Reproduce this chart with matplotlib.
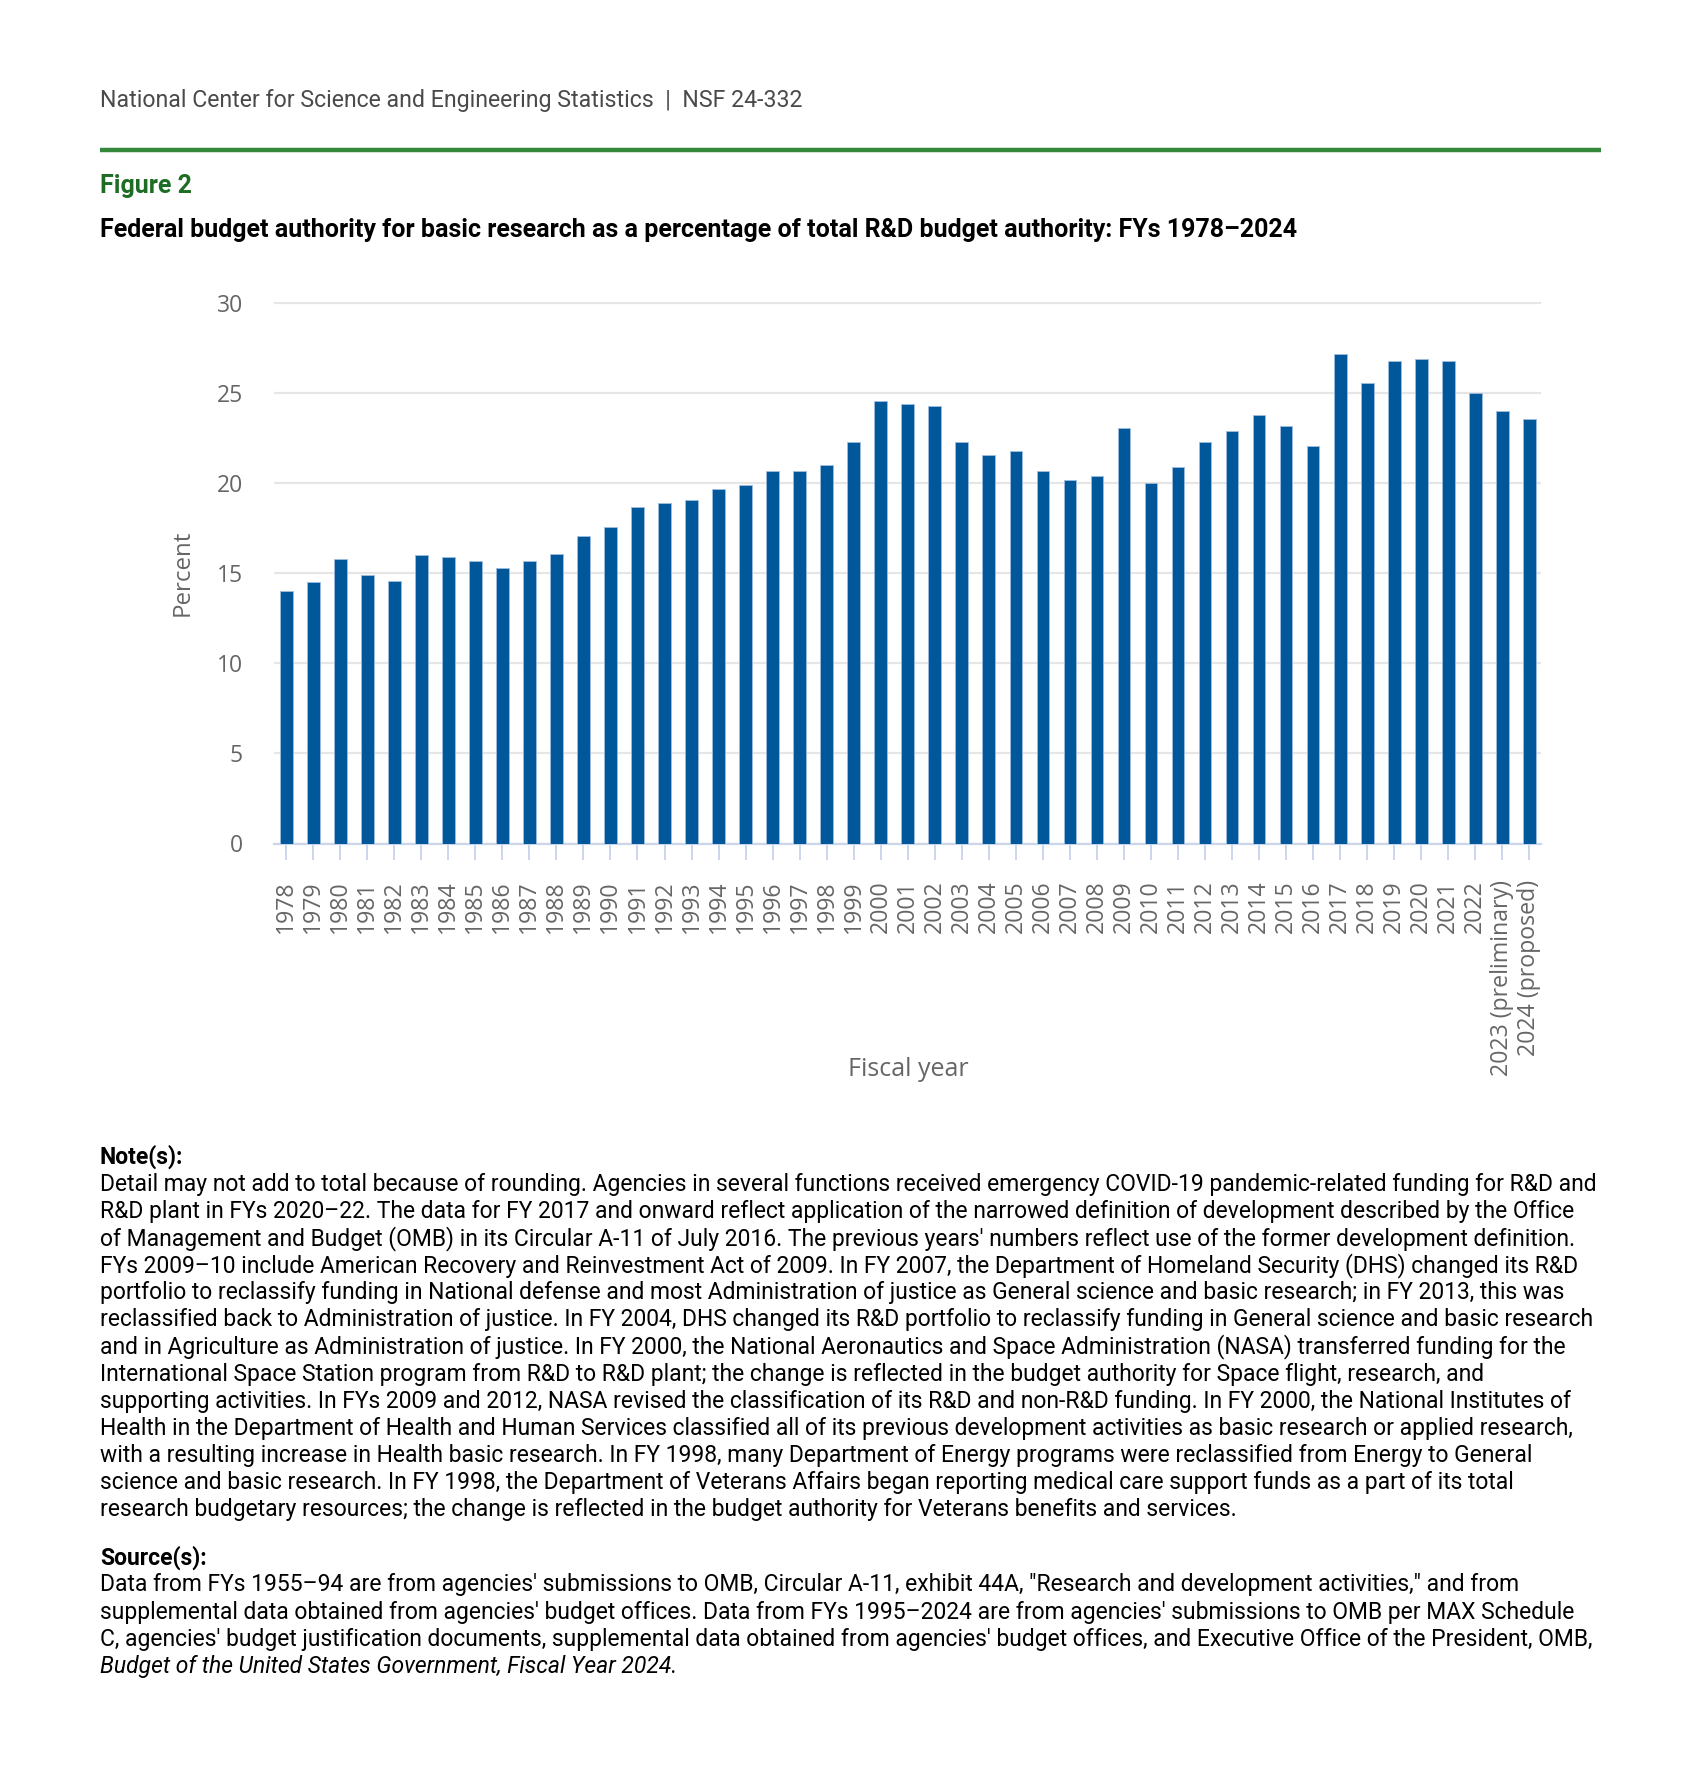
#!/usr/bin/env python

import matplotlib
matplotlib.use('Agg')
import matplotlib.pyplot as plt

years = ['1978', '1979', '1980', '1981', '1982', '1983', '1984', '1985', '1986', '1987',
         '1988', '1989', '1990', '1991', '1992', '1993', '1994', '1995', '1996', '1997',
         '1998', '1999', '2000', '2001', '2002', '2003', '2004', '2005', '2006', '2007',
         '2008', '2009', '2010', '2011', '2012', '2013', '2014', '2015', '2016', '2017',
         '2018', '2019', '2020', '2021', '2022', '2023 (preliminary)', '2024 (proposed)']

percent = [14.0, 14.5, 15.8, 14.9, 14.6, 16.0, 15.9, 15.7, 15.3, 15.7,
           16.1, 17.1, 17.6, 18.7, 18.9, 19.1, 19.7, 19.9, 20.7, 20.7,
           21.0, 22.3, 24.6, 24.4, 24.3, 22.3, 21.6, 21.8, 20.7, 20.2,
           20.4, 23.1, 20.0, 20.9, 22.3, 22.9, 23.8, 23.2, 22.1, 27.2,
           25.6, 26.8, 26.9, 26.8, 25.0, 24.0, 23.6]

y_ticks = [0, 5, 10, 15, 20, 25, 30]

note_lines = [
    "Detail may not add to total because of rounding. Agencies in several functions received emergency COVID-19 pandemic-related funding for R&D and",
    "R&D plant in FYs 2020\u201322. The data for FY 2017 and onward reflect application of the narrowed definition of development described by the Office",
    "of Management and Budget (OMB) in its Circular A-11 of July 2016. The previous years' numbers reflect use of the former development definition.",
    "FYs 2009\u201310 include American Recovery and Reinvestment Act of 2009. In FY 2007, the Department of Homeland Security (DHS) changed its R&D",
    "portfolio to reclassify funding in National defense and most Administration of justice as General science and basic research; in FY 2013, this was",
    "reclassified back to Administration of justice. In FY 2004, DHS changed its R&D portfolio to reclassify funding in General science and basic research",
    "and in Agriculture as Administration of justice. In FY 2000, the National Aeronautics and Space Administration (NASA) transferred funding for the",
    "International Space Station program from R&D to R&D plant; the change is reflected in the budget authority for Space flight, research, and",
    "supporting activities. In FYs 2009 and 2012, NASA revised the classification of its R&D and non-R&D funding. In FY 2000, the National Institutes of",
    "Health in the Department of Health and Human Services classified all of its previous development activities as basic research or applied research,",
    "with a resulting increase in Health basic research. In FY 1998, many Department of Energy programs were reclassified from Energy to General",
    "science and basic research. In FY 1998, the Department of Veterans Affairs began reporting medical care support funds as a part of its total",
    "research budgetary resources; the change is reflected in the budget authority for Veterans benefits and services.",
]

source_lines = [
    "Data from FYs 1955\u201394 are from agencies' submissions to OMB, Circular A-11, exhibit 44A, \"Research and development activities,\" and from",
    "supplemental data obtained from agencies' budget offices. Data from FYs 1995\u20132024 are from agencies' submissions to OMB per MAX Schedule",
    "C, agencies' budget justification documents, supplemental data obtained from agencies' budget offices, and Executive Office of the President, OMB,",
]
source_italic = "Budget of the United States Government, Fiscal Year 2024."

W = 1699
H = 1786


def fx(px):
    return px / W


def fy(py):
    return 1 - py / H


def main():
    fig = plt.figure(figsize=(W / 100, H / 100), dpi=100)
    fig.patch.set_facecolor('white')

    text_font = ['Roboto', 'DejaVu Sans']
    axis_font = ['Open Sans', 'DejaVu Sans']

    # header
    fig.text(fx(100), fy(100), 'National Center for Science and Engineering Statistics  |  NSF 24-332',
             fontsize=16.7, color='#4a4a4a', family=text_font, va='center', ha='left')
    fig.add_artist(plt.Line2D([fx(100), fx(1601)], [fy(150), fy(150)], color='#34883c',
                              linewidth=3.2, solid_capstyle='butt'))
    fig.text(fx(100), fy(186), 'Figure 2', fontsize=18, color='#1d6e24', weight='bold',
             family=text_font, va='center', ha='left')
    fig.text(fx(100), fy(230),
             'Federal budget authority for basic research as a percentage of total R&D budget authority: FYs 1978\u20132024',
             fontsize=18, color='black', weight='bold', family=text_font, va='center', ha='left')

    # chart
    top = 301.5
    bottom = 843.5
    left = 274
    right = 1541.5
    ax = fig.add_axes([fx(left), fy(bottom), fx(right) - fx(left), (bottom - top) / H])
    x = list(range(len(years)))
    ax.bar(x, percent, width=0.47, color='#00589b', edgecolor='#9fbde0', linewidth=0.6, zorder=3)

    ax.set_xlim(-0.45, len(years) - 0.55)
    ax.set_ylim(0, 30.1)
    ax.set_yticks(y_ticks)
    ax.set_yticklabels([str(t) for t in y_ticks], fontsize=16.5, color='#666666', family=axis_font)
    ax.set_xticks(x)
    ax.set_xticklabels(years, rotation=90, fontsize=16.7, color='#666666', family=axis_font,
                       va='top', ha='center')

    ax.yaxis.grid(True, color='#e6e6e6', linewidth=1.6, zorder=0)
    ax.set_axisbelow(True)
    for side in ['top', 'right', 'left']:
        ax.spines[side].set_visible(False)
    ax.spines['bottom'].set_color('#ccd6eb')
    ax.spines['bottom'].set_linewidth(1.6)
    ax.tick_params(axis='y', length=0, pad=22.5)
    ax.tick_params(axis='x', length=11.5, width=1.4, color='#ccd6eb', pad=15)

    ax.set_ylabel('Percent', fontsize=17.4, color='#666666', family=axis_font, labelpad=16)
    ax.set_xlabel('Fiscal year', fontsize=18, color='#666666', family=axis_font)
    ax.xaxis.set_label_coords((fx(908) - fx(left)) / (fx(right) - fx(left)), -(1057 - bottom) / (bottom - top))

    # notes
    line_h = 27.15
    fs = 16.5
    fig.text(fx(100), fy(1157), 'Note(s):', fontsize=fs, weight='bold', color='black',
             family=text_font, va='center', ha='left')
    for i, line in enumerate(note_lines):
        fig.text(fx(100), fy(1184 + i * line_h), line, fontsize=fs, color='black',
                 family=text_font, va='center', ha='left')

    fig.text(fx(100), fy(1558), 'Source(s):', fontsize=fs, weight='bold', color='black',
             family=text_font, va='center', ha='left')
    for i, line in enumerate(source_lines):
        fig.text(fx(100), fy(1585 + i * line_h), line, fontsize=fs, color='black',
                 family=text_font, va='center', ha='left')
    fig.text(fx(100), fy(1585 + 3 * line_h), source_italic, fontsize=fs, style='italic',
             color='black', family=text_font, va='center', ha='left')

    plt.savefig('out.png', dpi=100, facecolor='white')
    plt.clf()


if __name__ == '__main__':
    main()
